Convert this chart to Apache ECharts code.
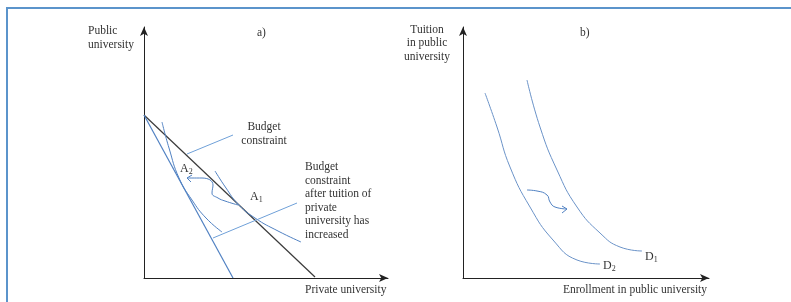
<!DOCTYPE html>
<html>
<head>
<meta charset="utf-8">
<script src="https://cdn.jsdelivr.net/npm/echarts@6.0.0/dist/echarts.min.js"></script>
<style>
html,body{margin:0;padding:0;background:#fff}
#main{width:791px;height:302px}
</style>
</head>
<body>
<div id="main"></div>
<script>
// panel a) units = offset from origin of the left diagram
var budgetOld = [[0, 163], [171, 1]];
var budgetNew = [[0, 163], [89, 0]];
var curveA2 = [[18, 156], [25, 130], [35, 100], [48, 78], [62, 60], [78, 46]];
var curveA1 = [[71, 107], [82, 90], [94, 74], [111, 60], [134, 47], [157, 36]];
var pointerOld = [[43, 124], [89, 143]];
var pointerNew = [[69, 40], [153, 75]];
var moveA = [[94, 73], [81, 77], [74, 80], [68, 85], [69, 93], [58, 100], [43, 100]];
var headA = [[48, 103], [43, 100], [47, 96]];

// panel b)
var demandD1 = [[64, 198], [77, 151], [94, 108], [114, 71], [137, 45], [157, 31], [179, 27]];
var demandD2 = [[22, 185], [34, 151], [47, 111], [67, 71], [90, 38], [114, 18], [137, 14]];
var moveB = [[64, 88], [74, 87], [84, 83], [87, 76], [92, 71], [104, 69]];
var headB = [[99, 72], [104, 69], [99, 65]];

var blue = '#5081c2';
var font = '11.5px "Liberation Serif", serif';
var txt = '#333';

var myChart = echarts.init(document.getElementById('main'));

function ax(grid, max) {
    return {
        gridIndex: grid, type: 'value', min: 0, max: max,
        axisLine: {show: true, symbol: ['none', 'arrow'], symbolSize: [6, 9],
            lineStyle: {color: '#222', width: 1}},
        axisTick: {show: false}, axisLabel: {show: false}, splitLine: {show: false}
    };
}

function curve(data, g, color, width, smooth) {
    return {
        type: 'line', xAxisIndex: g, yAxisIndex: g, data: data,
        showSymbol: false, smooth: smooth, silent: true,
        lineStyle: {color: color, width: width}
    };
}

function label(x, y, text, align) {
    return {type: 'text', x: x, y: y, silent: true,
        style: {text: text, font: font, fill: txt, align: align || 'left',
            verticalAlign: 'middle', lineHeight: 13.5}};
}

function sub(x, y, letter, n) {
    return {type: 'text', x: x, y: y, silent: true,
        style: {text: '{m|' + letter + '}{s|' + n + '}', verticalAlign: 'middle',
            rich: {m: {font: '12px "Liberation Serif", serif', fill: txt},
                   s: {font: '8px "Liberation Serif", serif', fill: txt, padding: [6, 0, 0, 0]}}}};
}

var option = {
    animation: false,
    grid: [
        {left: 144, top: 27, width: 244, height: 251},
        {left: 463, top: 27, width: 246, height: 251}
    ],
    xAxis: [ax(0, 244), ax(1, 246)],
    yAxis: [ax(0, 251), ax(1, 251)],
    series: [
        curve(budgetOld, 0, '#3a3a3a', 1.2, false),
        curve(budgetNew, 0, blue, 1.2, false),
        curve(curveA2, 0, blue, 1, 0.5),
        curve(curveA1, 0, blue, 1, 0.5),
        curve(pointerOld, 0, '#6fa0d8', 1, false),
        curve(pointerNew, 0, '#6fa0d8', 1, false),
        curve(moveA, 0, blue, 1, 0.5),
        curve(headA, 0, blue, 1, false),
        curve(demandD1, 1, '#6b93c8', 1, 0.5),
        curve(demandD2, 1, '#6b93c8', 1, 0.5),
        curve(moveB, 1, blue, 1, 0.5),
        curve(headB, 1, blue, 1, false)
    ],
    graphic: [
        {type: 'rect', silent: true, shape: {x: 7, y: 8, width: 820, height: 320},
            style: {fill: 'none', stroke: '#5b94cb', lineWidth: 2}},
        label(88, 38, 'Public\nuniversity'),
        label(257, 33, 'a)'),
        label(264, 134, 'Budget\nconstraint', 'center'),
        label(305, 201, 'Budget\nconstraint\nafter tuition of\nprivate\nuniversity has\nincreased'),
        sub(180, 169, 'A', 2),
        sub(250, 197, 'A', 1),
        label(305, 290, 'Private university'),
        label(427, 43, 'Tuition\nin public\nuniversity', 'center'),
        label(580, 33, 'b)'),
        label(563, 290, 'Enrollment in public university'),
        sub(645, 257, 'D', 1),
        sub(603, 266, 'D', 2)
    ]
};
myChart.setOption(option);
</script>
</body>
</html>
